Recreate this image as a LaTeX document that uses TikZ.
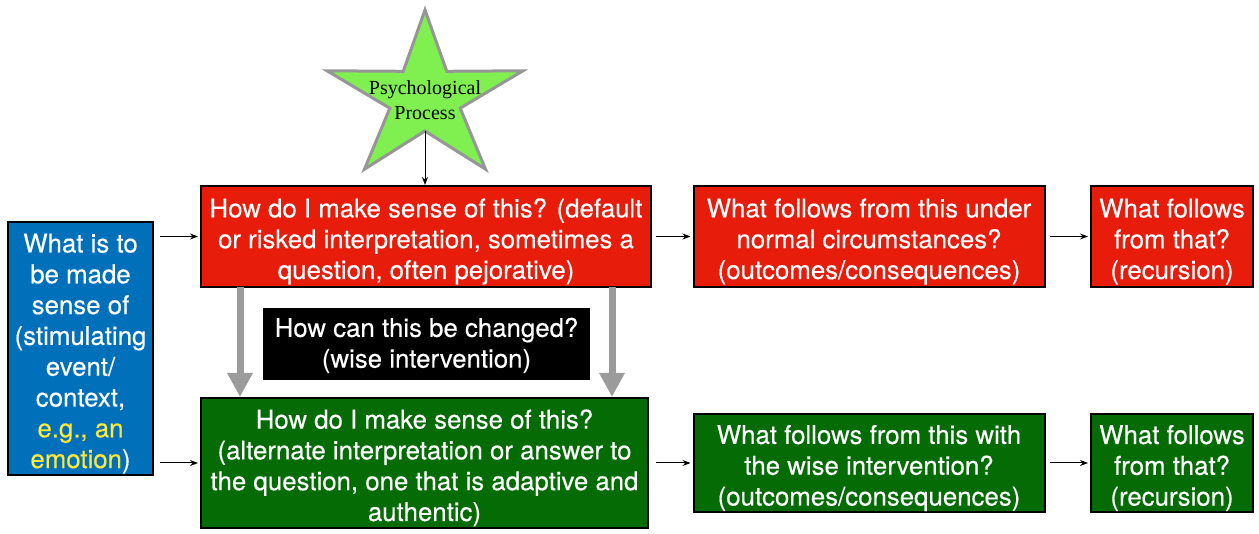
\documentclass[tikz,border=0pt]{standalone}
\usepackage{fontspec}
\setmainfont{TeX Gyre Heros}[FakeBold=0.3]
\newfontfamily\boxfont{TeX Gyre Heros}[FakeBold=0.35]
\newfontfamily\starfont{Liberation Serif}
\usetikzlibrary{arrows.meta}
\definecolor{boxred}{RGB}{232,28,10}
\definecolor{boxgreen}{RGB}{5,108,5}
\definecolor{boxblue}{RGB}{0,112,186}
\definecolor{txtyellow}{RGB}{255,232,60}
\definecolor{stargreen}{RGB}{128,240,80}
\definecolor{stargrey}{RGB}{150,150,150}
\definecolor{arrowgrey}{RGB}{155,155,155}
\newcommand{\topstrut}{\rule{0pt}{29pt}}
\newcommand{\smallstrut}{\rule{0pt}{22pt}}
\begin{document}
\begin{tikzpicture}[x=1pt,y=-1pt,
  box/.style={draw=black, line width=2pt, text=white, align=center, inner sep=0pt,
    font=\boxfont\fontsize{25.8}{30.8}\selectfont},
  redbox/.style={box, fill=boxred},
  greenbox/.style={box, fill=boxgreen},
  bluebox/.style={box, fill=boxblue},
  blackbox/.style={box, draw=none, fill=black},
  arr/.style={draw=black, line width=1pt, -{Stealth[length=8pt,width=6pt]}},
  bigarr/.style={draw=arrowgrey, line width=7pt, -{Triangle[length=24pt,width=24pt]}},
  starline/.style={draw=stargrey, fill=stargreen, line width=3pt, line join=miter}]
\useasboundingbox (0,0) rectangle (1259,534);

% star
\begin{scope}[shift={(425,98)}]
  \draw[starline] (-90:103 and 88) -- (-54:37 and 33) -- (-18:103 and 88) -- (18:37 and 33)
    -- (54:103 and 88) -- (90:37 and 33) -- (126:103 and 88) -- (162:37 and 33)
    -- (198:103 and 88) -- (234:37 and 33) -- cycle;
  \coordinate (starbot) at (90:37 and 33);
\end{scope}
\node[align=center, inner sep=0pt, font=\starfont\fontsize{20}{25}\selectfont] (star) at (425,100.5) {Psychological\\Process};

% boxes
\node[bluebox, minimum width=145pt, minimum height=253pt] (blue) at (80.5,348.5)
  {\topstrut What is to\\be made\\sense of\\(stimulating\\event/\\context,\\\textcolor{txtyellow}{e.g., an}\\\textcolor{txtyellow}{emotion})};

\node[redbox, minimum width=450pt, minimum height=101pt] (red1) at (426,236.5)
  {\topstrut How do I make sense of this? (default\\or risked interpretation, sometimes a\\question, often pejorative)};
\node[redbox, minimum width=351pt, minimum height=101pt] (red2) at (869,236.5)
  {\topstrut What follows from this under\\normal circumstances?\\(outcomes/consequences)};
\node[redbox, minimum width=162pt, minimum height=101pt] (red3) at (1172,236.5)
  {\topstrut What follows\\from that?\\(recursion)};

\node[greenbox, minimum width=447pt, minimum height=130pt] (green1) at (424.5,463)
  {\topstrut How do I make sense of this?\\(alternate interpretation or answer to\\the question, one that is adaptive and\\authentic)};
\node[greenbox, minimum width=351pt, minimum height=98pt] (green2) at (869,463)
  {\topstrut What follows from this with\\the wise intervention?\\(outcomes/consequences)};
\node[greenbox, minimum width=162pt, minimum height=98pt] (green3) at (1172,463)
  {\topstrut What follows\\from that?\\(recursion)};

\node[blackbox, minimum width=327pt, minimum height=72pt] (change) at (426.5,344)
  {\smallstrut How can this be changed?\\(wise intervention)};

% connectors
\draw[arr] (starbot) -- (starbot |- red1.north);
\draw[arr] ([xshift=6pt]blue.east |- red1.west) -- ([xshift=-2pt]red1.west);
\draw[arr] ([xshift=6pt]blue.east |- green1.west) -- ([xshift=-2pt]green1.west);
\draw[arr] ([xshift=4pt]red1.east) -- ([xshift=-2pt]red2.west);
\draw[arr] ([xshift=4pt]red2.east) -- ([xshift=-2pt]red3.west);
\draw[arr] ([xshift=7pt]green1.east) -- ([xshift=-2pt]green2.west);
\draw[arr] ([xshift=4pt]green2.east) -- ([xshift=-2pt]green3.west);

\draw[bigarr] ([xshift=40pt,yshift=1pt]red1.south west) -- ([xshift=40pt]red1.south west |- green1.north);
\draw[bigarr] ([xshift=-40pt,yshift=1pt]red1.south east) -- ([xshift=-40pt]red1.south east |- green1.north);
\end{tikzpicture}
\end{document}
